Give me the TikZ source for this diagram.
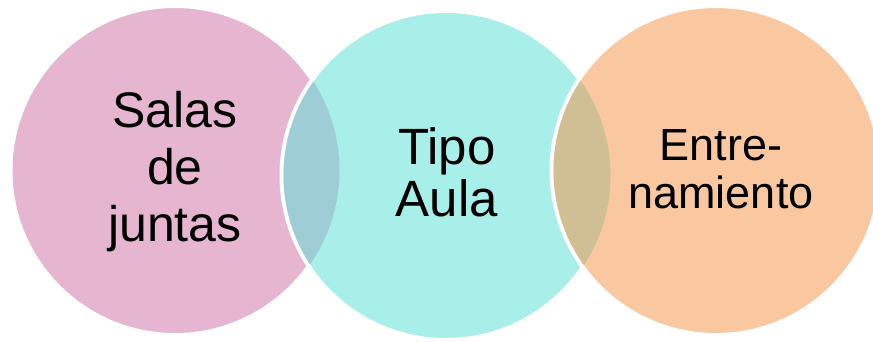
\documentclass[tikz,border=0pt]{standalone}
\usepackage{fontspec}
\setmainfont{Liberation Sans}
\definecolor{salasfill}{HTML}{E6B5D0}
\definecolor{aulafill}{HTML}{A8EFE9}
\definecolor{entrefill}{HTML}{F9C8A0}
\definecolor{salasaula}{HTML}{9FCDD5}
\definecolor{aulaentre}{HTML}{D0BF94}
\begin{document}
\begin{tikzpicture}[x=1pt, y=-1pt, disc/.style={ circle, draw=white,
    line width=4pt, minimum size=329pt, inner sep=0pt }, caption/.style={
    align=center, text=black } ]
  \useasboundingbox (0,0) rectangle (873,341);
  \foreach \n/\x/\y/\c in {salas/175/170.5/salasfill,aula/446/175.5/aulafill,entre/716/170.5/entrefill}
  \node[disc, fill=\c] (\n) at (\x,\y) {};
  % overlaps
  \begin{scope}
    \clip (salas.center) circle[radius=164.5pt];
    \fill[salasaula] (aula.center) circle[radius=162.5pt];
  \end{scope}
  \begin{scope}
    \clip (aula.center) circle[radius=164.5pt];
    \fill[aulaentre] (entre.center) circle[radius=162.5pt];
  \end{scope}
  \node[caption, font=\fontsize{50}{57}\selectfont] (salaslabel) at (175,172) {Salas\\de\\juntas};
  \node[caption, font=\fontsize{51}{52}\selectfont] (aulalabel) at (447,172) {Tipo\\Aula};
  \node[caption, font=\fontsize{45}{48}\selectfont] (entrelabel) at (721,169) {Entre-\\namiento};
\end{tikzpicture}
\end{document}
